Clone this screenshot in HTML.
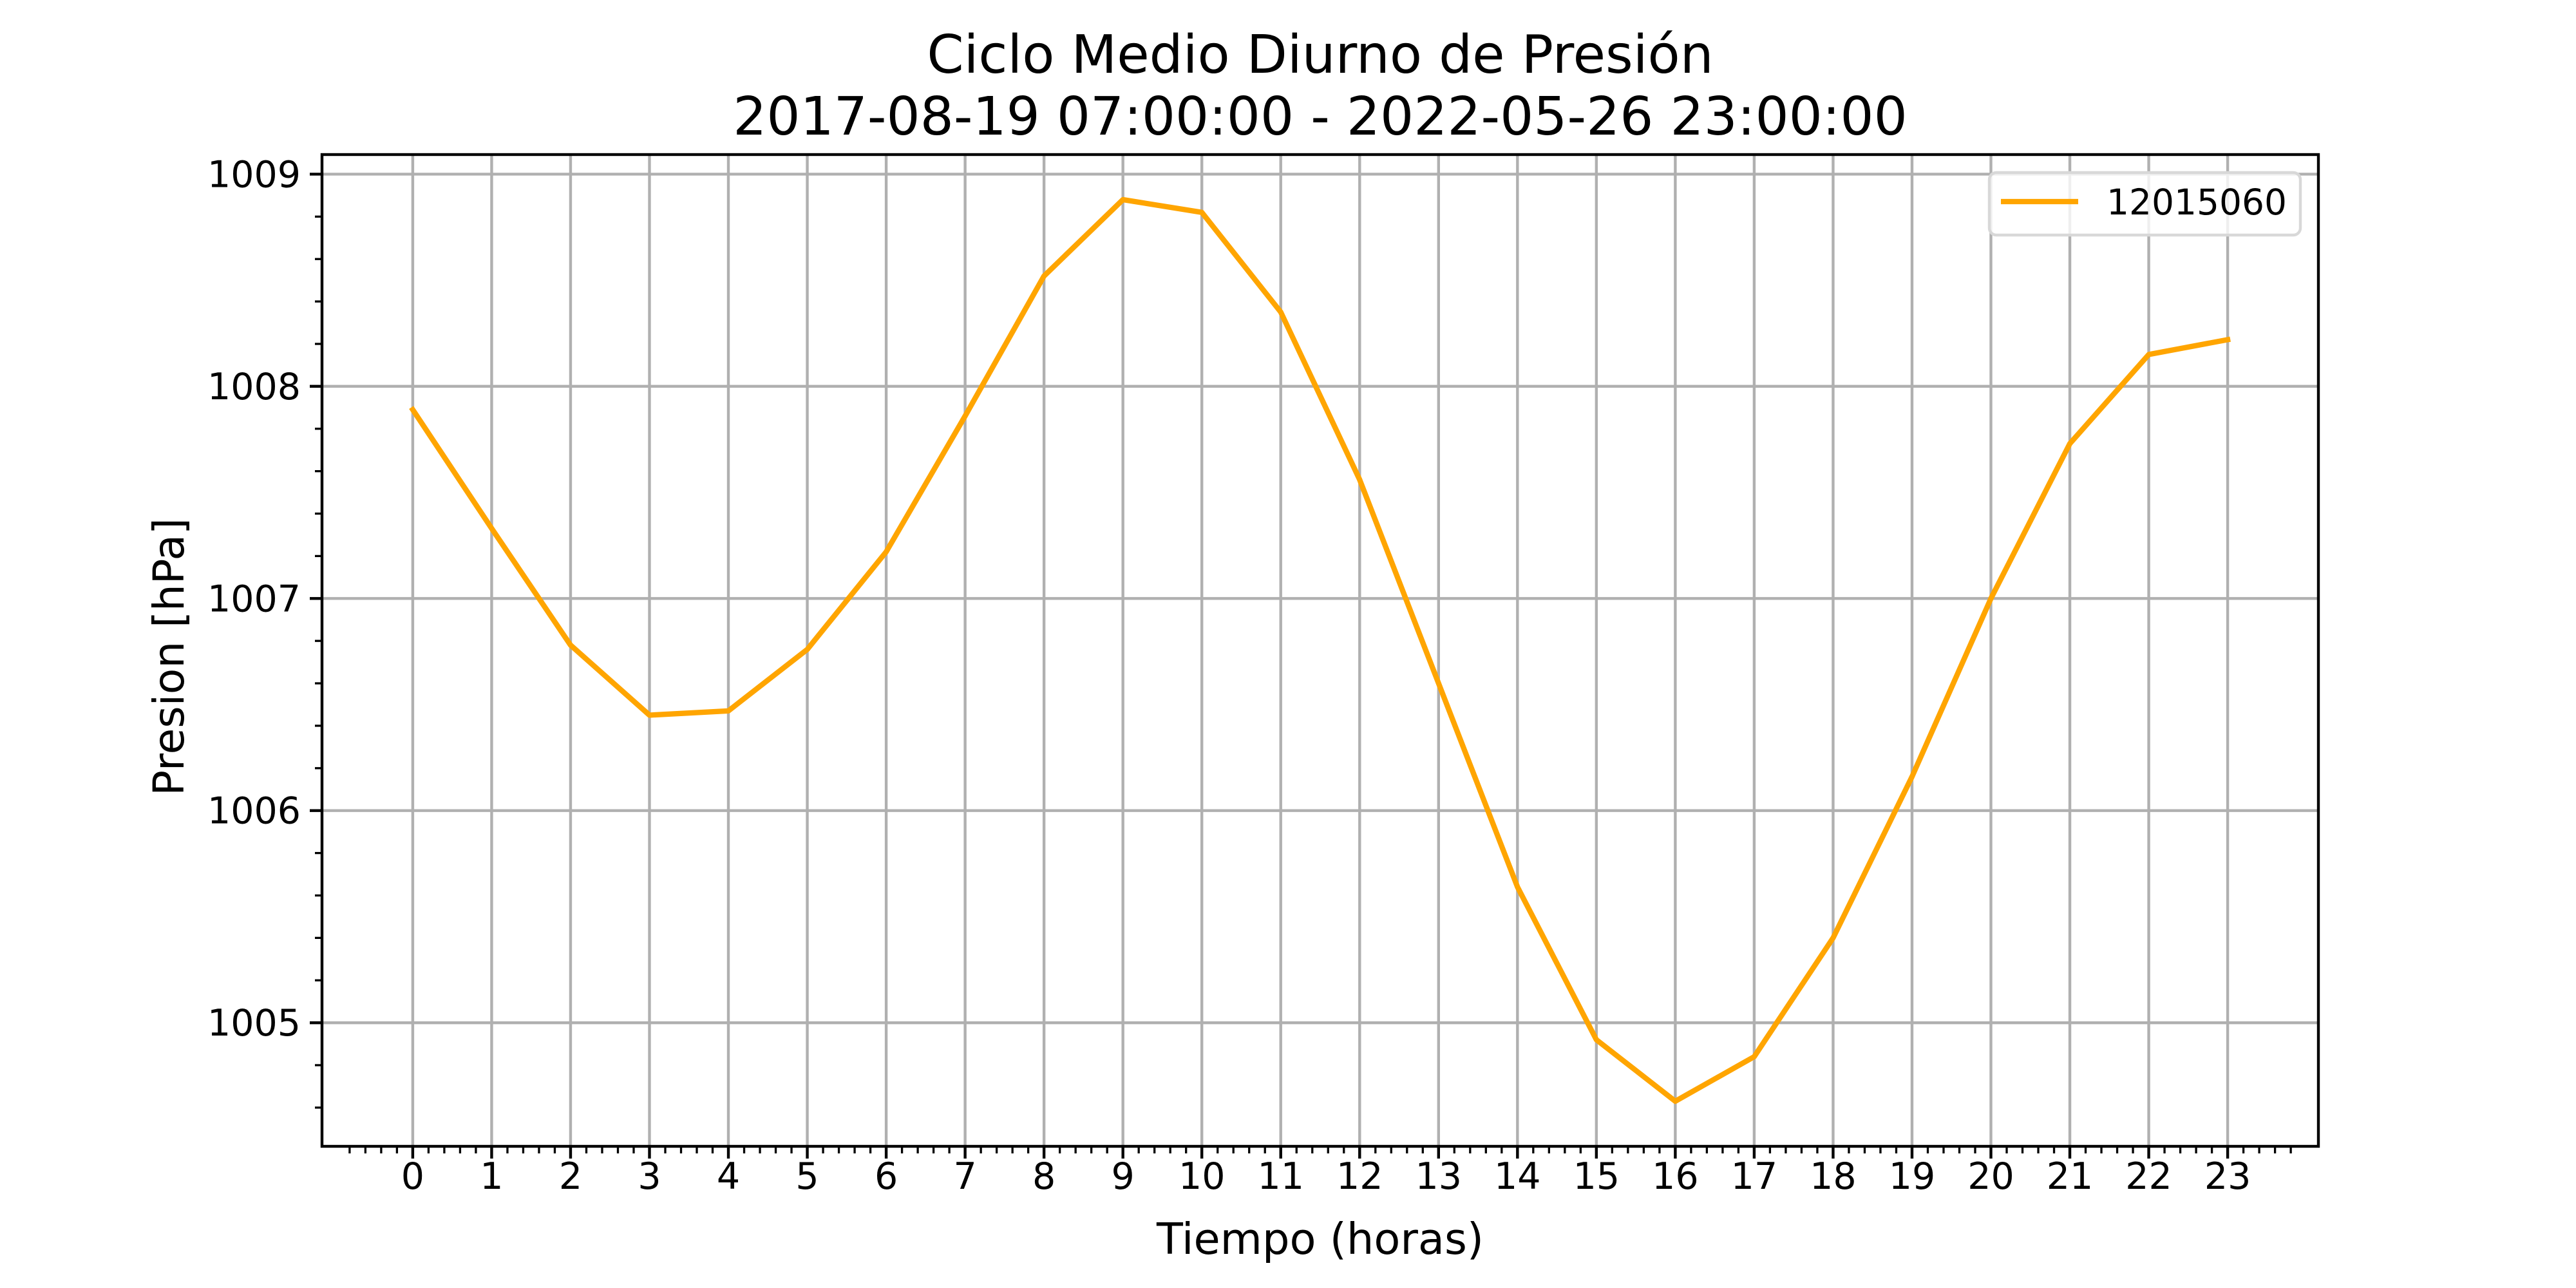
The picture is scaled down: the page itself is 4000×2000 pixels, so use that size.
<!DOCTYPE html>
<html><head><meta charset="utf-8"><style>
html,body{margin:0;padding:0;background:#fff;}
svg{display:block;font-family:"DejaVu Sans","Liberation Sans",sans-serif;}
</style></head><body>
<svg id="chart" width="4000" height="2000" viewBox="0 0 4000 2000" xmlns="http://www.w3.org/2000/svg">
<rect width="4000" height="2000" fill="#fff"/>
<text x="2050" y="113" font-size="82" text-anchor="middle">Ciclo Medio Diurno de Presión</text>
<text x="2050" y="209" font-size="82" text-anchor="middle">2017-08-19 07:00:00 - 2022-05-26 23:00:00</text>
<g id="grid"></g>
<g id="ticks"></g>
<polyline id="series" fill="none" stroke="#ffa500" stroke-width="8.3" stroke-linejoin="round" stroke-linecap="square"/>
<rect x="500" y="240" width="3100" height="1540" fill="none" stroke="#000" stroke-width="4.4"/>
<text x="2050" y="1947" font-size="67" text-anchor="middle">Tiempo (horas)</text>
<text x="0" y="0" font-size="66" text-anchor="middle" transform="translate(285,1020) rotate(-90)">Presion [hPa]</text>
<g>
<rect x="3089" y="268" width="483" height="97" rx="11" fill="#fff" fill-opacity="0.8" stroke="#d8d8d8" stroke-width="4.4"/>
<line x1="3107" y1="313" x2="3227" y2="313" stroke="#ffa500" stroke-width="8.3"/>
<text x="3271" y="333" font-size="55">12015060</text>
</g>
</svg>
<script>
const hours = [0,1,2,3,4,5,6,7,8,9,10,11,12,13,14,15,16,17,18,19,20,21,22,23];
const pressure = [1007.89,1007.33,1006.78,1006.45,1006.47,1006.76,1007.22,1007.86,1008.52,1008.88,1008.82,1008.35,1007.56,1006.60,1005.64,1004.92,1004.63,1004.84,1005.40,1006.16,1007.00,1007.73,1008.15,1008.22];
const yTicks = [1005,1006,1007,1008,1009];

const L=500,R=3600,T=240,B=1780;
const minP=Math.min(...pressure), maxP=Math.max(...pressure);
const yMin=minP-(maxP-minP)*0.05, yMax=maxP+(maxP-minP)*0.05;
const xMin=hours[0]-(hours[hours.length-1]-hours[0])*0.05, xMax=hours[hours.length-1]+(hours[hours.length-1]-hours[0])*0.05;
const sx=v=>L+(v-xMin)/(xMax-xMin)*(R-L);
const sy=v=>B-(v-yMin)/(yMax-yMin)*(B-T);
const NS='http://www.w3.org/2000/svg';
const grid=document.getElementById('grid'), ticks=document.getElementById('ticks');
function mk(tag,attrs,parent){const e=document.createElementNS(NS,tag);for(const k in attrs)e.setAttribute(k,attrs[k]);parent.appendChild(e);return e;}

hours.forEach(h=>{
  const x=sx(h);
  const g=mk('line',{x1:x,y1:T,x2:x,y2:B,stroke:'#b0b0b0','stroke-width':4.4},grid);
  
  
  const t=mk('line',{x1:x,y1:B,x2:x,y2:B+19,stroke:'#000','stroke-width':4.4},ticks);
  
  
  const lb=mk('text',{x:x,y:B+66,'font-size':57,'text-anchor':'middle'},ticks);
  lb.textContent=h;
  
  
});
for(let v=Math.ceil(xMin*5)/5; v<=xMax+1e-9; v+=0.2){
  const r=Math.round(v*5)/5;
  if(Math.abs(r-Math.round(r))<1e-6) continue;
  const x=sx(r);
  const m=mk('line',{x1:x,y1:B,x2:x,y2:B+11,stroke:'#000','stroke-width':3.3},ticks);
  
  
}
yTicks.forEach(v=>{
  const y=sy(v);
  const g=mk('line',{x1:L,y1:y,x2:R,y2:y,stroke:'#b0b0b0','stroke-width':4.4},grid);
  
  
  const t=mk('line',{x1:L-19,y1:y,x2:L,y2:y,stroke:'#000','stroke-width':4.4},ticks);
  
  
  const lb=mk('text',{x:L-33,y:y+20,'font-size':57,'text-anchor':'end'},ticks);
  lb.textContent=v;
  
  
});
for(let v=Math.ceil(yMin*5)/5; v<=yMax+1e-9; v+=0.2){
  const r=Math.round(v*5)/5;
  if(Math.abs(r-Math.round(r))<1e-6) continue;
  const y=sy(r);
  const m=mk('line',{x1:L-11,y1:y,x2:L,y2:y,stroke:'#000','stroke-width':3.3},ticks);
  
  
}
document.getElementById('series').setAttribute('points',hours.map((h,i)=>sx(h)+','+sy(pressure[i])).join(' '));
</script>
</body></html>
